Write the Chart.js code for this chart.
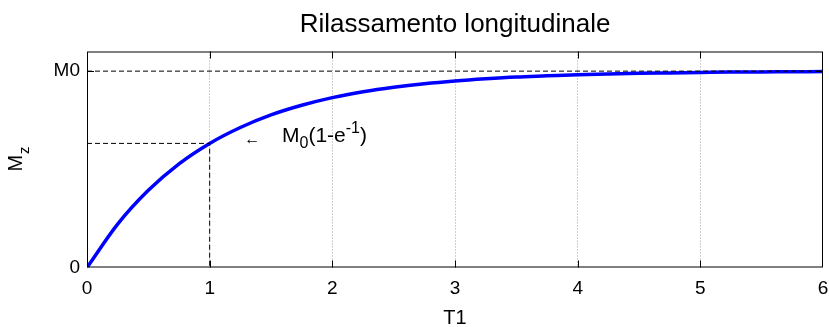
<!DOCTYPE html>
<html>
<head>
<meta charset="utf-8">
<script src="https://cdn.jsdelivr.net/npm/chart.js@4"></script>
<style>
  html, body { margin: 0; padding: 0; background: #fff; }
  #wrap { width: 829px; height: 327px; }
</style>
</head>
<body>
<div id="wrap"><canvas id="chart"></canvas></div>
<script>
// values
const tValues = [0, 0.25, 0.5, 0.75, 1, 1.25, 1.5, 1.75, 2, 2.25, 2.5, 2.75, 3,
  3.25, 3.5, 3.75, 4, 4.25, 4.5, 4.75, 5, 5.25, 5.5, 5.75, 6];
const mzValues = [0, 0.221, 0.393, 0.528, 0.632, 0.713, 0.777, 0.826, 0.865, 0.895,
  0.918, 0.936, 0.950, 0.961, 0.970, 0.976, 0.982, 0.986, 0.989, 0.991, 0.993,
  0.995, 0.996, 0.997, 0.998];

const m0LineX = [0, 6];
const m0LineY = [1, 1];
const t1LineX = [0, 1, 1];
const t1LineY = [0.632, 0.632, 0];

const xTicks = [0, 1, 2, 3, 4, 5, 6];
const yTicks = [0, 1];
const yTickLabels = ["0", "M0"];

const titleText = "Rilassamento longitudinale";
const noteAt = { arrowX: 1.33, arrowY: 0.655, textX: 1.59, textY: 0.64 };

const FONT = "'Liberation Sans', Arial, Helvetica, sans-serif";

const pts = (xs, ys) => xs.map((x, i) => ({ x: x, y: ys[i] }));

// box, inward tick marks, title and tex-like labels
const matlabLook = {
  id: "matlabLook",
  afterDraw(chart) {
    const { ctx, chartArea: a, scales } = chart;
    const xs = scales.x, ys = scales.y;
    ctx.save();
    ctx.strokeStyle = "#000";
    ctx.lineWidth = 1;
    ctx.strokeRect(a.left + 0.5, a.top + 0.5, a.right - a.left - 1, a.bottom - a.top - 1);

    const tl = 7;
    ctx.beginPath();
    xTicks.slice(1, -1).forEach((v) => {
      const px = Math.round(xs.getPixelForValue(v)) + 0.5;
      ctx.moveTo(px, a.bottom); ctx.lineTo(px, a.bottom - tl);
      ctx.moveTo(px, a.top); ctx.lineTo(px, a.top + tl);
    });
    yTicks.filter((v) => v > 0).forEach((v) => {
      const py = Math.round(ys.getPixelForValue(v)) + 0.5;
      ctx.moveTo(a.left, py); ctx.lineTo(a.left + tl, py);
      ctx.moveTo(a.right, py); ctx.lineTo(a.right - tl, py);
    });
    ctx.stroke();

    // title
    ctx.fillStyle = "#000";
    ctx.textAlign = "center";
    ctx.textBaseline = "alphabetic";
    ctx.font = "26px " + FONT;
    ctx.fillText(titleText, (a.left + a.right) / 2, 32);

    // y axis label M_z
    ctx.save();
    ctx.translate(22, (a.top + a.bottom) / 2);
    ctx.rotate(-Math.PI / 2);
    ctx.textAlign = "left";
    ctx.font = "20px " + FONT;
    const mw = ctx.measureText("M").width;
    ctx.font = "15px " + FONT;
    const zw = ctx.measureText("z").width;
    const start = -(mw + zw) / 2;
    ctx.font = "20px " + FONT;
    ctx.fillText("M", start, 0);
    ctx.font = "15px " + FONT;
    ctx.fillText("z", start + mw + 1, 7);
    ctx.restore();

    // annotation: arrow and M_0(1-e^-1)
    ctx.textAlign = "left";
    ctx.font = "16px " + FONT;
    ctx.fillText("\u2190", xs.getPixelForValue(noteAt.arrowX) - 6, ys.getPixelForValue(noteAt.arrowY) + 5);
    let x = xs.getPixelForValue(noteAt.textX);
    const y = ys.getPixelForValue(noteAt.textY);
    const parts = [
      ["M", 21, 0], ["0", 16, 6], ["(1-e", 21, 0], ["-1", 16, -9], [")", 21, 0]
    ];
    parts.forEach(([s, size, dy]) => {
      ctx.font = size + "px " + FONT;
      ctx.fillText(s, x, y + dy);
      x += ctx.measureText(s).width;
    });
    ctx.restore();
  }
};

new Chart(document.getElementById("chart").getContext("2d"), {
  type: "line",
  data: {
    datasets: [
      {
        data: pts(m0LineX, m0LineY),
        borderColor: "#000",
        borderWidth: 1,
        borderDash: [5, 3],
        pointRadius: 0,
      },
      {
        data: pts(t1LineX, t1LineY),
        borderColor: "#000",
        borderWidth: 1,
        borderDash: [5, 3],
        pointRadius: 0,
      },
      {
        data: pts(tValues, mzValues),
        borderColor: "#0000ff",
        borderWidth: 3.5,
        pointRadius: 0,
        cubicInterpolationMode: "monotone",
      },
    ],
  },
  options: {
    responsive: true,
    maintainAspectRatio: false,
    animation: false,
    layout: { padding: { top: 51.5, right: 0, bottom: 0, left: 0 } },
    plugins: {
      legend: { display: false },
      title: { display: false },
      tooltip: { enabled: false },
    },
    scales: {
      x: {
        type: "linear",
        min: 0,
        max: 6,
        afterBuildTicks: (s) => { s.ticks = xTicks.map((v) => ({ value: v })); },
        afterFit: (s) => { s.height = 59.5; s.paddingRight = 6; s.paddingLeft = 0; },
        ticks: {
          color: "#000",
          font: { family: FONT, size: 19 },
          padding: 10,
          maxRotation: 0,
        },
        grid: {
          drawTicks: false,
          color: (c) => (c.tick && c.tick.value > 0 && c.tick.value < 6 ? "#a0a0a0" : "rgba(0,0,0,0)"),
          lineWidth: 1,
        },
        border: { display: false, dash: [1, 2] },
        title: {
          display: true,
          text: "T1",
          color: "#000",
          font: { family: FONT, size: 20 },
          padding: { top: 0, bottom: -3 },
        },
      },
      y: {
        type: "linear",
        min: 0,
        max: 1.1,
        afterBuildTicks: (s) => { s.ticks = yTicks.map((v) => ({ value: v })); },
        afterFit: (s) => { s.width = 87; s.paddingTop = 0; s.paddingBottom = 0; },
        ticks: {
          color: "#000",
          font: { family: FONT, size: 19 },
          padding: 7,
          callback: (v) => yTickLabels[yTicks.indexOf(v)],
        },
        grid: { display: false, drawTicks: false },
        border: { display: false },
      },
    },
  },
  plugins: [matlabLook],
});
</script>
</body>
</html>
